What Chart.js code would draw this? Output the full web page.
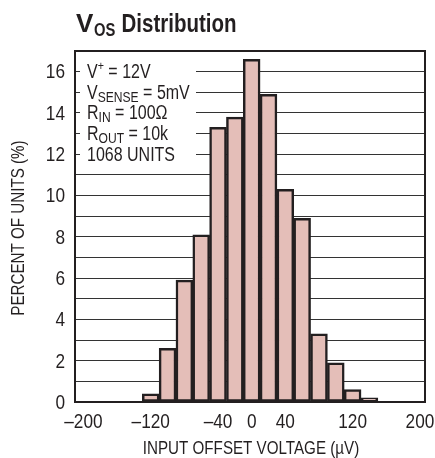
<!DOCTYPE html>
<html>
<head>
<meta charset="utf-8">
<script src="https://cdn.jsdelivr.net/npm/chart.js@4/dist/chart.umd.min.js"></script>
<style>
  html, body { margin: 0; padding: 0; background: #fff; }
  canvas { display: block; }
</style>
</head>
<body>
<canvas id="chart" width="435" height="458"></canvas>
<script>
// bin centres (µV) and percent of units in each bin
const binCenters = [-120, -100, -80, -60, -40, -20, 0, 20, 40, 60, 80, 100, 120, 140];
const percentUnits = [0.4, 2.6, 5.9, 8.1, 13.3, 13.8, 16.6, 14.9, 10.3, 8.9, 3.3, 1.9, 0.6, 0.2];
const xTickValues = [-200, -120, -40, 0, 40, 120, 200];
const yTickLabels = [0, 2, 4, 6, 8, 10, 12, 14, 16];

const FONT = '"Liberation Sans", Arial, sans-serif';
const INK = '#231f20';
const SQUEEZE = 0.82; // fake a condensed face

// conditions box, one line per grid value
const noteLines = [
  { at: 16, parts: [{ t: 'V' }, { t: '+', sup: true }, { t: ' = 12V' }] },
  { at: 15, parts: [{ t: 'V' }, { t: 'SENSE', sub: true }, { t: ' = 5mV' }] },
  { at: 14, parts: [{ t: 'R' }, { t: 'IN', sub: true }, { t: ' = 100Ω' }] },
  { at: 13, parts: [{ t: 'R' }, { t: 'OUT', sub: true }, { t: ' = 10k' }] },
  { at: 12, parts: [{ t: '1068 UNITS' }] },
];

// draws condensed text, returns its width
function text(ctx, str, x, y, o) {
  const sq = o.sq || SQUEEZE;
  ctx.save();
  ctx.translate(x, y);
  if (o.rotate) ctx.rotate(-Math.PI / 2);
  ctx.scale(sq, 1);
  ctx.font = (o.bold ? 'bold ' : '') + o.size + 'px ' + FONT;
  ctx.textAlign = o.align || 'left';
  ctx.textBaseline = o.baseline || 'alphabetic';
  ctx.fillStyle = INK;
  ctx.fillText(str, 0, 0);
  const w = ctx.measureText(str).width * sq;
  ctx.restore();
  return w;
}

const labelsPlugin = {
  id: 'labels',
  afterDraw(chart) {
    const ctx = chart.ctx;
    const xs = chart.scales.x;
    const ys = chart.scales.y;
    const a = chart.chartArea;

    // title
    text(ctx, 'V', 76, 32, { size: 26, bold: true, sq: 1 });
    text(ctx, 'OS', 94, 36, { size: 18, bold: true });
    text(ctx, 'Distribution', 121.5, 32, { size: 25, bold: true });

    // tick labels
    yTickLabels.forEach(v => {
      text(ctx, String(v), 65, ys.getPixelForValue(v) + 1, { size: 21, align: 'right', baseline: 'middle' });
    });
    xTickValues.forEach(v => {
      const s = v < 0 ? '–' + Math.abs(v) : String(v);
      text(ctx, s, xs.getPixelForValue(v), 428, { size: 21, align: 'center' });
    });

    // axis titles
    text(ctx, 'INPUT OFFSET VOLTAGE (µV)', (a.left + a.right) / 2 + 1, 454, { size: 18.5, align: 'center' });
    text(ctx, 'PERCENT OF UNITS (%)', 24, 228, { size: 18.5, align: 'center', rotate: true });
  }
};

const notesPlugin = {
  id: 'notes',
  beforeDatasetsDraw(chart) {
    const ctx = chart.ctx;
    const y = chart.scales.y;
    const area = chart.chartArea;
    ctx.save();
    // blank out grid lines behind the text, keep short inside ticks
    ctx.fillStyle = '#fff';
    ctx.fillRect(area.left + 5, y.getPixelForValue(16.6), 196 - area.left - 5, y.getPixelForValue(11.5) - y.getPixelForValue(16.6));
    ctx.restore();
    noteLines.forEach(line => {
      let x = 87;
      const cy = y.getPixelForValue(line.at) + 1;
      line.parts.forEach(p => {
        if (p.sub) x += text(ctx, p.t, x, cy + 4, { size: 15.5, sq: 0.78, baseline: 'middle' });
        else if (p.sup) x += text(ctx, p.t, x, cy - 6, { size: 13, baseline: 'middle' });
        else x += text(ctx, p.t, x, cy, { size: 20, sq: 0.8, baseline: 'middle' });
      });
    });
  },
  afterDatasetsDraw(chart) {
    const ctx = chart.ctx;
    const a = chart.chartArea;
    ctx.save();
    ctx.strokeStyle = INK;
    ctx.lineWidth = 2;
    ctx.strokeRect(a.left, a.top, a.right - a.left, a.bottom - a.top);
    ctx.restore();
  }
};

const ctx = document.getElementById('chart').getContext('2d');

new Chart(ctx, {
  type: 'bar',
  data: {
    datasets: [{
      data: binCenters.map((x, i) => ({ x: x, y: percentUnits[i] })),
      backgroundColor: '#e4beb8',
      borderColor: INK,
      borderWidth: 2.5,
      borderSkipped: false,
      categoryPercentage: 1,
      barPercentage: 1,
    }]
  },
  options: {
    responsive: false,
    devicePixelRatio: 1,
    animation: false,
    layout: { padding: { top: 51, right: 10, left: 0, bottom: 0 } },
    plugins: { legend: { display: false }, tooltip: { enabled: false }, title: { display: false } },
    scales: {
      x: {
        type: 'linear',
        min: -210,
        max: 206,
        offset: false,
        grid: { display: false, drawTicks: false },
        border: { display: false },
        afterBuildTicks: scale => { scale.ticks = xTickValues.map(v => ({ value: v })); },
        afterFit: scale => { scale.height = 56; },
        ticks: { display: false },
      },
      y: {
        min: 0,
        max: 17,
        grid: { color: '#333', lineWidth: 1, drawTicks: false },
        border: { display: false },
        afterFit: scale => { scale.width = 75; },
        ticks: { display: false, stepSize: 1 },
      },
    },
  },
  plugins: [labelsPlugin, notesPlugin],
});
</script>
</body>
</html>
